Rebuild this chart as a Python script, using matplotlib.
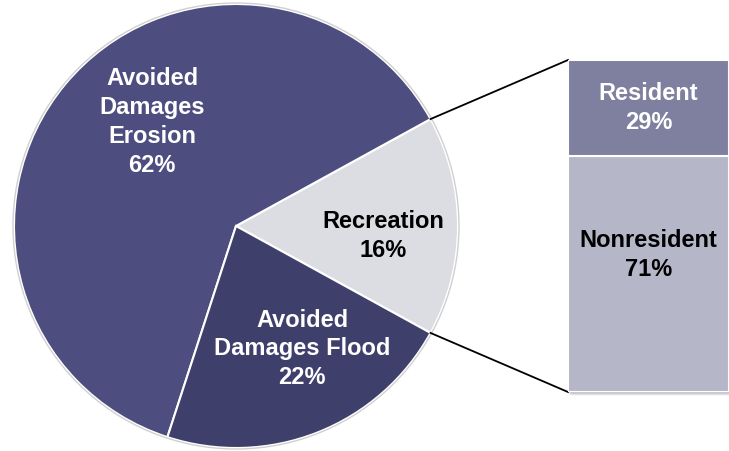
import numpy as np
import matplotlib.pyplot as plt
from matplotlib.patches import Rectangle

# pie data (counter-clockwise order starting at the lower edge of Recreation)
pie_labels = ['Recreation', 'Avoided\nDamages\nErosion', 'Avoided\nDamages Flood']
pie_values = [16, 62, 22]
pie_colors = ['#dcdde3', '#4d4e7f', '#3f3f6b']
pie_text_colors = ['black', 'white', 'white']

# breakdown of Recreation
bar_labels = ['Nonresident', 'Resident']
bar_values = [71, 29]
bar_colors = ['#b5b6c8', '#7f809f']
bar_text_colors = ['black', 'white']

plt.rcParams['font.family'] = ['Liberation Sans', 'DejaVu Sans']
plt.rcParams['font.weight'] = 'bold'

W, H = 729, 451
fig = plt.figure(figsize=(W / 100, H / 100), dpi=100)
ax = fig.add_axes([0, 0, 1, 1])

cx, cy, R = 236, 225, 222
start = -pie_values[0] / 100 * 360 / 2
wedges, _ = ax.pie(pie_values, colors=pie_colors, startangle=start, counterclock=True,
                   center=(cx, cy), radius=R,
                   wedgeprops=dict(edgecolor='white', linewidth=1.5))
# faint outer ring
ax.add_patch(plt.Circle((cx, cy), R + 1, fill=False, edgecolor='#d0d0d0', linewidth=1))
ax.set_xlim(0, W)
ax.set_ylim(0, H)
ax.set_aspect('equal')
ax.axis('off')

# label positions (offset from pie centre, pixels)
label_offsets = [(147, -10), (-84, 104), (66, -123)]
for lab, val, col, (dx, dy) in zip(pie_labels, pie_values, pie_text_colors, label_offsets):
    ax.text(cx + dx, cy + dy, f'{lab}\n{val}%', ha='center', va='center',
            color=col, fontsize=17, fontweight='bold', linespacing=1.32)

# bar of pie
bx0, by0, bw, bh = 568, 59, 161, 332
bax = fig.add_axes([bx0 / W, by0 / H, bw / W, bh / H])
# soft shadow
for k, a in enumerate([0.10, 0.07, 0.04]):
    ax.add_patch(Rectangle((bx0 + 1 + k, by0 - 2 - k), bw, bh, facecolor='black',
                           alpha=a, edgecolor='none', zorder=0))
bottom = 0
for lab, val, col, tcol in zip(bar_labels, bar_values, bar_colors, bar_text_colors):
    bax.bar(0, val, bottom=bottom, width=1, color=col, edgecolor='white', linewidth=1.5)
    ypos = bottom + val / 2 if lab == 'Resident' else bottom + val * 0.58
    bax.text(0, ypos, f'{lab}\n{val}%', ha='center', va='center', color=tcol,
             fontsize=17, fontweight='bold', linespacing=1.32)
    bottom += val
bax.set_xlim(-0.5, 0.5)
bax.set_ylim(0, sum(bar_values))
bax.axis('off')

# connector lines from the Recreation wedge to the bar
t1 = np.deg2rad(wedges[0].theta2)
t0 = np.deg2rad(wedges[0].theta1)
ax.plot([cx + R * np.cos(t1), bx0], [cy + R * np.sin(t1), by0 + bh], color='black', lw=1.3)
ax.plot([cx + R * np.cos(t0), bx0], [cy + R * np.sin(t0), by0], color='black', lw=1.3)

fig.savefig('out.png', dpi=100)
